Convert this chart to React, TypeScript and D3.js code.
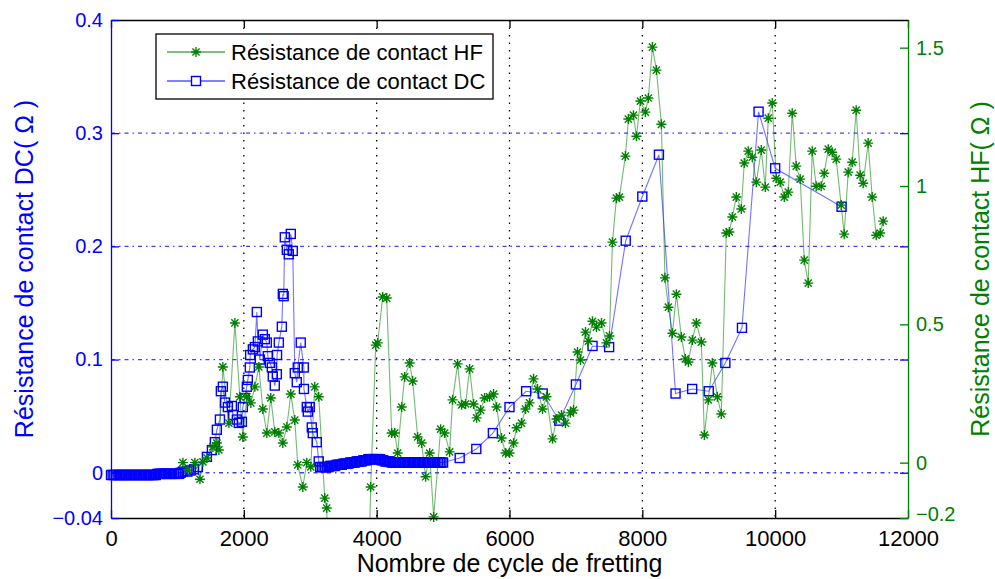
import * as d3 from 'd3';
import { useEffect, useRef } from 'react';

const xTicks = [0, 2000, 4000, 6000, 8000, 10000, 12000];
const dcTicks = [-0.04, 0, 0.1, 0.2, 0.3, 0.4];
const dcTickLabels = ['−0.04', '0', '0.1', '0.2', '0.3', '0.4'];
const hfTicks = [-0.2, 0, 0.5, 1, 1.5];
const hfTickLabels = ['−0.2', '0', '0.5', '1', '1.5'];
const dcGrid = [0, 0.1, 0.2, 0.3];

// DC contact resistance (Ohm) vs fretting cycles
const dcPoints: [number, number][] = [
  [0, -0.002], [25, -0.002], [50, -0.002], [75, -0.002], [100, -0.002], [125, -0.002],
  [150, -0.002], [175, -0.002], [200, -0.002], [225, -0.002], [250, -0.002], [275, -0.002],
  [300, -0.002], [325, -0.002], [350, -0.002], [375, -0.002], [400, -0.002], [425, -0.002],
  [450, -0.002], [475, -0.002], [500, -0.002], [525, -0.002], [550, -0.002], [575, -0.002],
  [600, -0.002], [625, -0.002], [650, -0.002], [675, -0.002], [700, -0.001], [725, -0.001],
  [750, -0.001], [775, -0.001], [800, -0.001], [825, -0.001], [850, -0.001], [875, -0.001],
  [900, -0.001], [925, -0.001], [950, -0.001], [975, -0.001], [1000, -0.001], [1025, -0.001],
  [1050, 0.0], [1083, 0.001], [1150, 0.001], [1200, 0.002], [1250, 0.003], [1308, 0.005],
  [1444, 0.014], [1519, 0.02], [1564, 0.027], [1594, 0.038], [1640, 0.047], [1654, 0.072],
  [1684, 0.076], [1715, 0.062], [1760, 0.058], [1820, 0.059], [1835, 0.051], [1895, 0.047],
  [1925, 0.044], [1970, 0.045], [1985, 0.058], [2015, 0.066], [2045, 0.076], [2060, 0.082],
  [2090, 0.093], [2095, 0.104], [2136, 0.109], [2166, 0.111], [2196, 0.142], [2211, 0.116],
  [2241, 0.1], [2286, 0.122], [2316, 0.118], [2346, 0.115], [2361, 0.103], [2391, 0.097],
  [2421, 0.093], [2436, 0.085], [2466, 0.077], [2497, 0.087], [2500, 0.104], [2527, 0.115],
  [2572, 0.129], [2587, 0.158], [2600, 0.156], [2617, 0.208], [2647, 0.197], [2677, 0.193],
  [2707, 0.211], [2737, 0.196], [2767, 0.088], [2797, 0.08], [2812, 0.093], [2857, 0.115],
  [2903, 0.093], [2905, 0.074], [2948, 0.058], [2963, 0.054], [2993, 0.058], [3023, 0.04],
  [3038, 0.035], [3098, 0.027], [3128, 0.01],
  [3150, 0.005], [3175, 0.005], [3200, 0.005], [3225, 0.005], [3250, 0.005], [3275, 0.005],
  [3300, 0.006], [3325, 0.006], [3350, 0.006], [3375, 0.006], [3400, 0.007], [3425, 0.007],
  [3450, 0.007], [3475, 0.007], [3500, 0.008], [3525, 0.008], [3550, 0.008], [3575, 0.008],
  [3600, 0.009], [3625, 0.009], [3650, 0.009], [3675, 0.009], [3700, 0.01], [3725, 0.01],
  [3750, 0.01], [3775, 0.01], [3800, 0.011], [3825, 0.011], [3850, 0.011], [3875, 0.012],
  [3900, 0.012], [3925, 0.012], [3950, 0.012], [3975, 0.012], [4000, 0.012], [4025, 0.012],
  [4050, 0.012], [4075, 0.011], [4100, 0.011], [4125, 0.01], [4150, 0.01], [4175, 0.01],
  [4200, 0.01], [4225, 0.009], [4250, 0.009], [4275, 0.009], [4300, 0.009], [4325, 0.009],
  [4350, 0.009], [4375, 0.009], [4400, 0.009], [4425, 0.009], [4450, 0.009], [4475, 0.009],
  [4500, 0.009], [4525, 0.009], [4550, 0.009], [4575, 0.009], [4600, 0.009], [4625, 0.009],
  [4650, 0.009], [4675, 0.009], [4700, 0.009], [4725, 0.009], [4750, 0.009], [4775, 0.009],
  [4800, 0.009], [4825, 0.009], [4850, 0.009], [4875, 0.009], [4900, 0.009], [4925, 0.009],
  [4950, 0.009], [4975, 0.009], [5000, 0.009],
  [5250, 0.013], [5500, 0.021], [5750, 0.035], [6000, 0.058], [6250, 0.072], [6500, 0.07],
  [6750, 0.046], [7000, 0.078], [7250, 0.112], [7500, 0.111], [7750, 0.205], [8000, 0.244],
  [8250, 0.281], [8500, 0.07], [8750, 0.074], [9000, 0.072], [9250, 0.097], [9500, 0.128],
  [9750, 0.319], [10000, 0.269], [11000, 0.235],
];

// HF contact resistance (Ohm) vs fretting cycles
const hfPoints: [number, number][] = [
  [1083, 0.0], [1158, -0.026], [1263, 0.0], [1339, -0.06], [1384, 0.003], [1444, 0.017],
  [1534, 0.057], [1594, 0.071], [1624, 0.046], [1684, 0.346], [1775, 0.143], [1865, 0.505],
  [1940, 0.238], [1985, 0.093], [2045, 0.238], [2106, 0.216], [2166, 0.274], [2226, 0.346],
  [2286, 0.194], [2346, 0.107], [2406, 0.234], [2466, 0.111], [2527, 0.107], [2587, 0.071],
  [2647, 0.129], [2707, 0.248], [2767, 0.154], [2812, -0.008], [2888, -0.088], [2948, 0.0],
  [3008, -0.015], [3068, 0.274], [3128, 0.238], [3218, -0.128], [3248, -0.164], [3300, -0.7],
  [3850, -0.7], [3910, -0.088], [3986, 0.425], [4016, 0.433], [4091, 0.599], [4151, 0.595],
  [4226, 0.107], [4271, 0.107], [4317, 0.035], [4377, 0.201], [4422, 0.31], [4497, 0.36],
  [4542, 0.295], [4617, 0.093], [4677, 0.071], [4737, -0.051], [4798, 0.035], [4858, -0.196],
  [4963, 0.121], [5023, 0.107], [5098, 0.039], [5143, 0.227], [5219, 0.357], [5279, 0.209],
  [5339, 0.212], [5399, 0.339], [5459, 0.212], [5505, 0.162], [5565, 0.19], [5625, 0.234],
  [5700, 0.238], [5760, 0.248], [5805, 0.201], [5880, 0.089], [5941, 0.035], [6000, 0.035],
  [6061, 0.071], [6106, 0.126], [6181, 0.143], [6241, 0.194], [6302, 0.216], [6362, 0.303],
  [6422, 0.266], [6497, 0.194], [6557, 0.238], [6648, 0.086], [6708, 0.158], [6783, 0.172],
  [6843, 0.143], [6918, 0.18], [6963, 0.19], [7024, 0.4], [7069, 0.371], [7144, 0.472],
  [7189, 0.439], [7249, 0.511], [7309, 0.49], [7385, 0.505], [7460, 0.433], [7505, 0.458],
  [7550, 0.797], [7610, 0.956], [7655, 0.96], [7745, 1.108], [7790, 1.242], [7866, 1.256],
  [7911, 1.18], [7971, 1.307], [8046, 1.267], [8091, 1.318], [8152, 1.502], [8212, 1.419],
  [8287, 1.223], [8340, 0.668], [8392, 0.562], [8453, 0.468], [8513, 0.609], [8588, 0.454],
  [8648, 0.375], [8693, 0.364], [8753, 0.443], [8813, 0.505], [8889, 0.436], [8934, 0.1],
  [8994, 0.227], [9054, 0.36], [9129, 0.238], [9189, 0.176], [9264, 0.83], [9310, 0.834],
  [9355, 0.888], [9415, 0.96], [9490, 0.917], [9535, 1.083], [9595, 1.126], [9655, 1.104],
  [9716, 1.014], [9791, 1.13], [9851, 0.996], [9896, 1.245], [9956, 1.3], [10016, 1.028],
  [10076, 1.014], [10137, 0.96], [10197, 0.978], [10257, 1.263], [10317, 1.072], [10377, 1.025],
  [10438, 0.732], [10498, 0.649], [10558, 1.126], [10618, 0.999], [10693, 0.999], [10739, 1.046],
  [10799, 1.133], [10859, 1.122], [10919, 1.097], [10994, 0.931], [11039, 0.826], [11100, 1.05],
  [11160, 1.086], [11220, 1.274], [11280, 1.039], [11325, 1.01], [11400, 1.155], [11461, 0.96],
  [11521, 0.822], [11581, 0.83], [11626, 0.873],
];

const legendLabels = ['Résistance de contact HF', 'Résistance de contact DC'];

const WIDTH = 995;
const HEIGHT = 579;
const FONT = '"Liberation Sans", Arial, sans-serif';
const BLUE = '#0000ff';
const GREEN = '#008000';
const SQ = 9;

function starPath(cx: number, cy: number, r: number) {
  const p = d3.path();
  const d = r * 0.72;
  p.moveTo(cx - r, cy);
  p.lineTo(cx + r, cy);
  p.moveTo(cx, cy - r);
  p.lineTo(cx, cy + r);
  p.moveTo(cx - d, cy - d);
  p.lineTo(cx + d, cy + d);
  p.moveTo(cx - d, cy + d);
  p.lineTo(cx + d, cy - d);
  return p.toString();
}

export default function App() {
  const ref = useRef<SVGSVGElement>(null);

  const margin = { top: 20, right: 87, bottom: 61, left: 111 };

  useEffect(() => {
    document.body.style.margin = '0';
    const svg = d3.select(ref.current);
    svg.selectAll('*').remove();

    const x = d3.scaleLinear([0, 12000], [margin.left, WIDTH - margin.right]);
    const yDC = d3.scaleLinear([-0.04, 0.4], [HEIGHT - margin.bottom, margin.top]);
    const yHF = d3.scaleLinear([-0.2, 1.6], [HEIGHT - margin.bottom, margin.top]);
    const left = margin.left;
    const right = WIDTH - margin.right;
    const top = margin.top;
    const bottom = HEIGHT - margin.bottom;

    svg
      .append('rect')
      .attr('width', WIDTH)
      .attr('height', HEIGHT)
      .attr('fill', '#fff');

    svg
      .append('defs')
      .append('clipPath')
      .attr('id', 'plot-clip')
      .append('rect')
      .attr('x', left)
      .attr('y', top)
      .attr('width', right - left)
      .attr('height', bottom - top);

    // grid
    svg
      .append('g')
      .selectAll('line')
      .data(xTicks.slice(1, -1))
      .join('line')
      .attr('x1', (d) => x(d))
      .attr('x2', (d) => x(d))
      .attr('y1', top)
      .attr('y2', bottom)
      .attr('stroke', '#000')
      .attr('stroke-width', 1.3)
      .attr('stroke-dasharray', '1.5,6');

    svg
      .append('g')
      .selectAll('line')
      .data(dcGrid)
      .join('line')
      .attr('x1', left)
      .attr('x2', right)
      .attr('y1', (d) => yDC(d))
      .attr('y2', (d) => yDC(d))
      .attr('stroke', BLUE)
      .attr('stroke-opacity', 0.75)
      .attr('stroke-width', 1.3)
      .attr('stroke-dasharray', '4,4,1.5,4');

    const plot = svg.append('g').attr('clip-path', 'url(#plot-clip)');

    // DC series (left axis)
    plot
      .append('path')
      .datum(dcPoints)
      .attr('fill', 'none')
      .attr('stroke', BLUE)
      .attr('stroke-opacity', 0.55)
      .attr('stroke-width', 1.1)
      .attr('d', d3.line<[number, number]>((d) => x(d[0]), (d) => yDC(d[1])));

    svg
      .append('g')
      .selectAll('rect')
      .data(dcPoints.filter((d) => d[1] >= -0.04 && d[1] <= 0.4))
      .join('rect')
      .attr('x', (d) => x(d[0]) - SQ / 2)
      .attr('y', (d) => yDC(d[1]) - SQ / 2)
      .attr('width', SQ)
      .attr('height', SQ)
      .attr('fill', 'none')
      .attr('stroke', BLUE)
      .attr('stroke-width', 1.4);

    // HF series (right axis)
    plot
      .append('path')
      .datum(hfPoints)
      .attr('fill', 'none')
      .attr('stroke', GREEN)
      .attr('stroke-opacity', 0.55)
      .attr('stroke-width', 1.1)
      .attr('d', d3.line<[number, number]>((d) => x(d[0]), (d) => yHF(d[1])));

    svg
      .append('g')
      .selectAll('path')
      .data(hfPoints.filter((d) => d[1] >= -0.2 && d[1] <= 1.6))
      .join('path')
      .attr('d', (d) => starPath(x(d[0]), yHF(d[1]), 5))
      .attr('fill', 'none')
      .attr('stroke', GREEN)
      .attr('stroke-width', 1.4);

    // axes
    const styleAxis = (g, colour: string, size: number) => {
      g.select('.domain').attr('stroke', colour).attr('stroke-width', 1.3);
      g.selectAll('.tick line').attr('stroke', colour).attr('stroke-width', 1.3);
      g.selectAll('.tick text')
        .attr('fill', colour)
        .attr('font-family', FONT)
        .attr('font-size', size);
    };

    svg
      .append('g')
      .attr('transform', `translate(0,${top})`)
      .call(d3.axisTop(x).tickValues(xTicks).tickSize(-8).tickSizeOuter(0).tickFormat(() => ''))
      .call((g) => styleAxis(g, '#000', 22));

    svg
      .append('g')
      .attr('transform', `translate(0,${bottom})`)
      .call(
        d3
          .axisBottom(x)
          .tickValues(xTicks)
          .tickSize(-8)
          .tickSizeOuter(0)
          .tickPadding(12)
          .tickFormat((d) => String(d))
      )
      .call((g) => styleAxis(g, '#000', 22));

    svg
      .append('g')
      .attr('transform', `translate(${left},0)`)
      .call(
        d3
          .axisLeft(yDC)
          .tickValues(dcTicks)
          .tickSize(-8)
          .tickSizeOuter(0)
          .tickPadding(8)
          .tickFormat((_, i) => dcTickLabels[i])
      )
      .call((g) => styleAxis(g, BLUE, 20));

    svg
      .append('g')
      .attr('transform', `translate(${right},0)`)
      .call(d3.axisRight(yDC).tickValues(dcGrid).tickSize(-8).tickSizeOuter(0).tickFormat(() => ''))
      .call((g) => styleAxis(g, BLUE, 20))
      .call((g) => g.select('.domain').remove());

    svg
      .append('g')
      .attr('transform', `translate(${right},0)`)
      .call(
        d3
          .axisRight(yHF)
          .tickValues(hfTicks)
          .tickSize(-8)
          .tickSizeOuter(0)
          .tickPadding(8)
          .tickFormat((_, i) => hfTickLabels[i])
      )
      .call((g) => styleAxis(g, GREEN, 20))
      // the lowest label sits just above the corner, clear of "12000"
      .call((g) =>
        g
          .selectAll('.tick text')
          .filter((d) => d === -0.2)
          .attr('dy', '0.1em')
      );

    // titles
    svg
      .append('text')
      .attr('x', (left + right) / 2)
      .attr('y', 572)
      .attr('text-anchor', 'middle')
      .attr('font-family', FONT)
      .attr('font-size', 25)
      .attr('fill', '#000')
      .text('Nombre de cycle de fretting');

    svg
      .append('text')
      .attr('transform', `translate(24,${(top + bottom) / 2}) rotate(-90)`)
      .attr('text-anchor', 'middle')
      .attr('dominant-baseline', 'central')
      .attr('font-family', FONT)
      .attr('font-size', 25)
      .attr('fill', BLUE)
      .text('Résistance de contact DC( Ω )');

    svg
      .append('text')
      .attr('transform', `translate(980,${(top + bottom) / 2}) rotate(-90)`)
      .attr('text-anchor', 'middle')
      .attr('dominant-baseline', 'central')
      .attr('font-family', FONT)
      .attr('font-size', 25)
      .attr('fill', GREEN)
      .text('Résistance de contact HF( Ω )');

    // legend
    const legend = svg.append('g');
    legend
      .append('rect')
      .attr('x', 156)
      .attr('y', 34)
      .attr('width', 337)
      .attr('height', 65)
      .attr('fill', '#fff')
      .attr('stroke', '#000')
      .attr('stroke-width', 1.3);

    const rows = legend
      .selectAll('g.row')
      .data(legendLabels)
      .join('g')
      .attr('class', 'row')
      .attr('transform', (_, i) => `translate(0,${52 + i * 29})`);

    rows
      .append('line')
      .attr('x1', 167)
      .attr('x2', 225)
      .attr('stroke', (_, i) => (i === 0 ? GREEN : BLUE))
      .attr('stroke-width', 1.2);

    rows
      .filter((_, i) => i === 0)
      .append('path')
      .attr('d', starPath(196, 0, 5))
      .attr('fill', 'none')
      .attr('stroke', GREEN)
      .attr('stroke-width', 1.4);

    rows
      .filter((_, i) => i === 1)
      .append('rect')
      .attr('x', 196 - SQ / 2)
      .attr('y', -SQ / 2)
      .attr('width', SQ)
      .attr('height', SQ)
      .attr('fill', '#fff')
      .attr('stroke', BLUE)
      .attr('stroke-width', 1.4);

    rows
      .append('text')
      .attr('x', 231)
      .attr('dy', '0.35em')
      .attr('font-family', FONT)
      .attr('font-size', 22)
      .attr('fill', '#000')
      .text((d) => d);
  }, []);

  return <svg ref={ref} width={WIDTH} height={HEIGHT} style={{ display: 'block' }}></svg>;
}
